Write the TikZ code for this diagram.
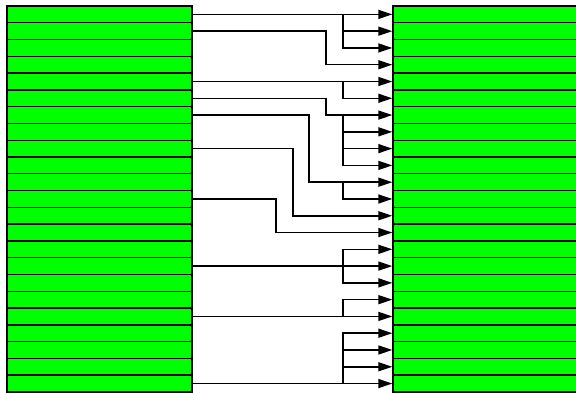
\documentclass[tikz,border=0pt]{standalone}
\usepackage{tikz}
\usetikzlibrary{arrows.meta}
\definecolor{cellgreen}{RGB}{0,255,0}
\newcommand{\cellrow}[3]{%
  \foreach \cI in {0,...,22}{%
    \node[cell,minimum width=#2] (#1\cI) at (#3,{6+16.78*(\cI+0.5)}) {};%
  }%
}
\newcommand{\fanout}[3]{%
  \foreach \fK in {#3} \draw[wire] (r#1.west -| #2) |- (r\fK.west);%
}
\begin{document}
\begin{tikzpicture}[x=1pt,y=-1pt,
  cell/.style={draw=black,line width=1.4pt,fill=cellgreen,rectangle,
    minimum height=16.78pt,inner sep=0pt},
  wire/.style={line width=1.5pt,-{Triangle[length=14pt,width=9pt]}}]
  \useasboundingbox (0,0) rectangle (576,393);
  \clip (0,0) rectangle (576,393);
  \cellrow{l}{185pt}{99.5}
  \cellrow{r}{200pt}{493}
  \coordinate (c1) at (276,0);
  \coordinate (c2) at (293,0);
  \coordinate (c3) at (309,0);
  \coordinate (c4) at (326,0);
  \coordinate (c5) at (343,0);
  % straight and bent wires
  \draw[wire] (l0.east) -- (r0.west);
  \draw[wire] (l1.east) -- (l1.east -| c4) |- (r3.west);
  \draw[wire] (l4.east) -- (r4.west);
  \draw[wire] (l5.east) -- (l5.east -| c4) |- (r6.west);
  \draw[wire] (l6.east) -- (l6.east -| c3) |- (r10.west);
  \draw[wire] (l8.east) -- (l8.east -| c2) |- (r12.west);
  \draw[wire] (l11.east) -- (l11.east -| c1) |- (r13.west);
  \draw[wire] (l15.east) -- (r15.west);
  \draw[wire] (l18.east) -- (r18.west);
  \draw[wire] (l22.east) -- (r22.west);
  % fan-out branches
  \fanout{0}{c5}{1,2}
  \fanout{4}{c5}{5}
  \fanout{6}{c5}{7,8,9}
  \fanout{10}{c5}{11}
  \fanout{15}{c5}{14,16}
  \fanout{18}{c5}{17}
  \fanout{22}{c5}{19,20,21}
\end{tikzpicture}
\end{document}
